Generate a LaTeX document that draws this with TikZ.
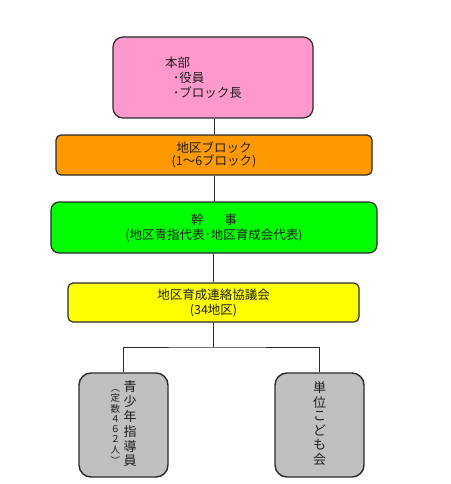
\documentclass[tikz,border=0pt]{standalone}
\usepackage{fontspec}
\setmainfont{Noto Sans CJK JP}
\definecolor{pinkfill}{HTML}{FF99CC}
\definecolor{orangefill}{HTML}{FF9900}
\definecolor{greenfill}{HTML}{00FF00}
\definecolor{yellowfill}{HTML}{FFFF00}
\definecolor{grayfill}{HTML}{C0C0C0}
\definecolor{edge}{HTML}{2A2A2A}
\definecolor{txt}{HTML}{1E1E1E}
\tikzset{
  box/.style={draw=edge, line width=1.2pt, rectangle, text=txt, align=center, inner sep=0pt},
  conn/.style={draw=edge, line width=0.9pt},
}
\begin{document}
\begin{tikzpicture}[x=1pt,y=-1pt]
\useasboundingbox[fill=white] (0,0) rectangle (450,484);
\node[box, fill=pinkfill, rounded corners=10pt, minimum width=200pt, minimum height=81pt,
      align=left, text width=96pt, font=\fontsize{12.5}{15}\selectfont] (hq) at (213,77.5)
  {本部\\\hspace{8pt}･役員\\\hspace{8pt}･ブロック長};
\node[box, fill=orangefill, rounded corners=5pt, minimum width=316pt, minimum height=40pt,
      font=\fontsize{12.5}{13}\selectfont] (blk) at (214,155)
  {地区ブロック\\(1～6ブロック)};
\node[box, fill=greenfill, rounded corners=8pt, minimum width=326pt, minimum height=51pt,
      font=\fontsize{12.5}{15}\selectfont] (kj) at (214,227.5)
  {幹\hspace{21pt}事\\(地区青指代表･地区育成会代表)};
\node[box, fill=yellowfill, rounded corners=5pt, minimum width=291pt, minimum height=39pt,
      font=\fontsize{12.5}{15}\selectfont] (kyo) at (213.5,302.5)
  {地区育成連絡協議会\\(34地区)};
\node[box, fill=grayfill, rounded corners=12pt, minimum width=89pt, minimum height=104pt, line width=1.4pt] (sei) at (123.5,425)
  {\begin{tabular}{@{}c@{\hspace{3.5pt}}c@{}}
   {\fontsize{9.5}{9.8}\selectfont\begin{tabular}[c]{@{}c@{}}︵\\定\\数\\４\\６\\２\\人\\︶\end{tabular}} &
   {\fontsize{13}{13.4}\selectfont\begin{tabular}[c]{@{}c@{}}青\\少\\年\\指\\導\\員\end{tabular}}
   \end{tabular}};
\node[box, fill=grayfill, rounded corners=12pt, minimum width=89pt, minimum height=104pt, line width=1.4pt] (tan) at (319.5,425)
  {\fontsize{13}{13.6}\selectfont\begin{tabular}[c]{@{}c@{}}単\\位\\こ\\ど\\も\\会\end{tabular}};
\coordinate (split) at (213.5,347);
\draw[conn] (hq.south -| blk.north) -- (blk.north);
\draw[conn] (blk.south) -- (blk.south |- kj.north);
\draw[conn] (kj.south -| kyo.south) -- (kyo.north);
\draw[conn] (kyo.south) -- (split);
\draw[conn] (sei.north) |- (split) -| (tan.north);
\end{tikzpicture}
\end{document}
